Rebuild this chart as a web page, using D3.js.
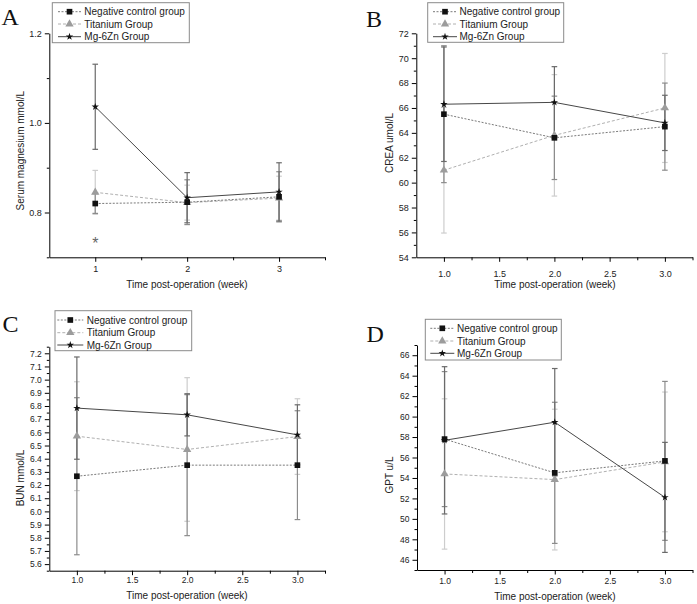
<!DOCTYPE html>
<html><head><meta charset="utf-8">
<script src="https://cdn.jsdelivr.net/npm/d3@7"></script>
<style>body{margin:0;background:#fff}svg{display:block}</style>
</head><body>
<svg id="c" width="697" height="604"></svg>
<script>
// ---------- data ----------
const weeks = [1, 2, 3];
const seriesNames = ["Negative control group", "Titanium Group", "Mg-6Zn Group"];

// A: Serum magnesium (mmol/L)
const mgNeg = [0.820, 0.823, 0.835], mgNegErr = [0.022, 0.050, 0.056];
const mgTi  = [0.845, 0.822, 0.832], mgTiErr  = [0.049, 0.039, 0.049];
const mgMg  = [1.036, 0.833, 0.846], mgMgErr  = [0.095, 0.056, 0.065];
const mgStar = [1, 0.745];

// B: CREA (umol/L)
const creaNeg = [65.5, 63.6, 64.5],  creaNegErr = [5.5, 3.35, 3.5];
const creaTi  = [61.0, 63.8, 66.0],  creaTiErr  = [5.05, 4.88, 4.38];
const creaMg  = [66.3, 66.45, 64.8], creaMgErr  = [4.6, 2.87, 2.22];

// C: BUN (mmol/L)
const bunNeg = [6.267, 6.351, 6.351], bunNegErr = [0.596, 0.535, 0.413];
const bunTi  = [6.571, 6.470, 6.568], bunTiErr  = [0.413, 0.545, 0.287];
const bunMg  = [6.784, 6.733, 6.581], bunMgErr  = [0.388, 0.160, 0.228];

// D: GPT (u/L)
const gptNeg = [57.8, 54.5, 55.67],  gptNegErr = [6.6, 6.9, 7.77];
const gptTi  = [54.39, 53.84, 55.57], gptTiErr = [7.35, 6.88, 6.83];
const gptMg  = [57.68, 59.45, 52.1], gptMgErr  = [7.2, 5.25, 5.38];

// tick values
const aXTicks = [1, 2, 3], aXMinor = [1.5, 2.5, 3.5];
const aYTicks = [0.8, 1.0, 1.2], aYMinor = [0.7, 0.9, 1.1];
const xTicksHalf = [1.0, 1.5, 2.0, 2.5, 3.0], xMinorQ = [1.25, 1.75, 2.25, 2.75, 3.25];
const bYTicks = d3.range(54, 72.1, 2), bYMinor = d3.range(55, 72, 2);
const cYTicks = d3.range(56, 72.1, 1).map(v => v / 10), cYMinor = d3.range(555, 726, 10).map(v => v / 100);
const dYTicks = d3.range(46, 66.1, 2), dYMinor = d3.range(45, 67.1, 2);

// ---------- styles ----------
const styles = [
  {line: "#7a7a7a", dash: "2,1.5", err: "#8c8c8c", mark: "#111", sym: d3.symbolSquare, size: 32},
  {line: "#b0b0b0", dash: "3,2",   err: "#cdcdcd", mark: "#9c9c9c", sym: d3.symbolTriangle, size: 30},
  {line: "#474747", dash: null,    err: "#6a6a6a", mark: "#111", sym: d3.symbolStar, size: 17}
];
const drawOrder = [1, 0, 2];

const panels = [
  {letter: "A", lx: 1.5, ly: 25, title: "Serum magnesium mmol/L", tx: 20.7, ty: 150.7,
   x0: 49.3, x1: 325, yT: 33.3, yB: 257.3, xDom: [0.5, 3.5], yDom: [0.7, 1.2],
   xt: aXTicks, xm: aXMinor, yt: aYTicks, ym: aYMinor, xf: d3.format("d"), yf: d3.format(".1f"),
   xlab: 187, xlabY: 287.5, xPad: 4, tickFont: 9,
   series: [[mgNeg, mgNegErr], [mgTi, mgTiErr], [mgMg, mgMgErr]],
   leg: {x: 52.3, y: 2.7, w: 137, h: 40, rows: [11.7, 24, 36.7], l0: 58, l1: 81, t: 84.3}},
  {letter: "B", lx: 366, ly: 26.7, title: "CREA umol/L", tx: 389.7, ty: 143,
   x0: 416.3, x1: 692.5, yT: 33.3, yB: 257.3, xDom: [0.75, 3.25], yDom: [54, 72],
   xt: xTicksHalf, xm: xMinorQ, yt: bYTicks, ym: bYMinor, xf: d3.format(".1f"), yf: d3.format("d"),
   xlab: 555, xlabY: 287.5, xPad: 9, tickFont: 9,
   series: [[creaNeg, creaNegErr], [creaTi, creaTiErr], [creaMg, creaMgErr]],
   leg: {x: 427.7, y: 2.7, w: 136, h: 39.6, rows: [11.7, 24, 36.7], l0: 433, l1: 457, t: 459.5}},
  {letter: "C", lx: 2.5, ly: 331.7, title: "BUN mmol/L", tx: 20, ty: 478,
   x0: 49.3, x1: 325, yT: 346.7, yB: 570.7, xDom: [0.75, 3.25], yDom: [5.55, 7.25],
   xt: xTicksHalf, xm: xMinorQ, yt: cYTicks, ym: cYMinor, xf: d3.format(".1f"), yf: d3.format(".1f"),
   xlab: 187, xlabY: 598.5, xPad: 1.5, tickFont: 8.5,
   series: [[bunNeg, bunNegErr], [bunTi, bunTiErr], [bunMg, bunMgErr]],
   leg: {x: 55, y: 310.7, w: 136.7, h: 40, rows: [320, 332.7, 345], l0: 57.3, l1: 83.3, t: 86.7}},
  {letter: "D", lx: 366.5, ly: 341.7, title: "GPT u/L", tx: 389.7, ty: 475,
   x0: 417, x1: 692.5, yT: 345, yB: 570, xDom: [0.75, 3.25], yDom: [45, 67],
   xt: xTicksHalf, xm: xMinorQ, yt: dYTicks, ym: dYMinor, xf: d3.format(".1f"), yf: d3.format("d"),
   xlab: 555, xlabY: 599.5, xPad: 3.5, tickFont: 8.5,
   series: [[gptNeg, gptNegErr], [gptTi, gptTiErr], [gptMg, gptMgErr]],
   leg: {x: 425.3, y: 319.3, w: 136, h: 40.7, rows: [328.3, 341, 353.3], l0: 430.3, l1: 454.3, t: 457}}
];

const svg = d3.select("#c");
const SANS = "'Liberation Sans', Arial, sans-serif";

function styleAxis(g, fs) {
  g.select(".domain").attr("stroke", "#000").attr("stroke-width", 1);
  g.selectAll(".tick line").attr("stroke", "#000").attr("stroke-width", 1);
  g.selectAll("text").attr("font-family", SANS).attr("font-size", fs).attr("fill", "#222");
}

panels.forEach(p => {
  const x = d3.scaleLinear().domain(p.xDom).range([p.x0, p.x1]);
  const y = d3.scaleLinear().domain(p.yDom).range([p.yB, p.yT]);
  const g = svg.append("g");

  // minor ticks
  g.append("g").attr("transform", `translate(0,${p.yB})`)
    .call(d3.axisBottom(x).tickValues(p.xm).tickSize(3).tickSizeOuter(0).tickFormat(""))
    .call(a => { styleAxis(a, p.tickFont); a.select(".domain").remove(); });
  g.append("g").attr("transform", `translate(${p.x0},0)`)
    .call(d3.axisLeft(y).tickValues(p.ym).tickSize(2.5).tickSizeOuter(0).tickFormat(""))
    .call(a => { styleAxis(a, p.tickFont); a.select(".domain").remove(); });
  // major axes
  g.append("g").attr("transform", `translate(0,${p.yB})`)
    .call(d3.axisBottom(x).tickValues(p.xt).tickSize(4.5).tickSizeOuter(0).tickPadding(p.xPad).tickFormat(p.xf))
    .call(a => styleAxis(a, p.tickFont));
  g.append("g").attr("transform", `translate(${p.x0},0)`)
    .call(d3.axisLeft(y).tickValues(p.yt).tickSize(4.5).tickSizeOuter(0).tickPadding(3).tickFormat(p.yf))
    .call(a => styleAxis(a, p.tickFont));

  // titles
  g.append("text").attr("x", p.xlab).attr("y", p.xlabY).attr("text-anchor", "middle")
    .attr("font-family", SANS).attr("font-size", 10).attr("fill", "#222").text("Time post-operation (week)");
  g.append("text").attr("transform", `translate(${p.tx},${p.ty}) rotate(-90)`).attr("text-anchor", "middle")
    .attr("dy", "0.35em").attr("font-family", SANS).attr("font-size", 10).attr("fill", "#222").text(p.title);
  g.append("text").attr("x", p.lx).attr("y", p.ly).attr("font-family", "'Liberation Serif', 'Times New Roman', serif")
    .attr("font-size", 24).attr("fill", "#111").text(p.letter);

  // error bars
  drawOrder.forEach(si => {
    const [vals, errs] = p.series[si], st = styles[si];
    const eg = g.append("g").attr("stroke", st.err).attr("stroke-width", 1.2).attr("fill", "none");
    weeks.forEach((w, i) => {
      const cx = x(w), top = y(vals[i] + errs[i]), bot = y(vals[i] - errs[i]);
      eg.append("line").attr("x1", cx).attr("x2", cx).attr("y1", top).attr("y2", bot);
      eg.append("line").attr("x1", cx - 2.8).attr("x2", cx + 2.8).attr("y1", top).attr("y2", top);
      eg.append("line").attr("x1", cx - 2.8).attr("x2", cx + 2.8).attr("y1", bot).attr("y2", bot);
    });
  });
  // lines
  drawOrder.forEach(si => {
    const [vals] = p.series[si], st = styles[si];
    g.append("path").datum(weeks.map((w, i) => [w, vals[i]]))
      .attr("d", d3.line().x(d => x(d[0])).y(d => y(d[1])))
      .attr("fill", "none").attr("stroke", st.line).attr("stroke-width", 1)
      .attr("stroke-dasharray", st.dash);
  });
  // markers
  drawOrder.forEach(si => {
    const [vals] = p.series[si], st = styles[si];
    weeks.forEach((w, i) => {
      g.append("path").attr("d", d3.symbol().type(st.sym).size(st.size)())
        .attr("transform", `translate(${x(w)},${y(vals[i])})`).attr("fill", st.mark);
    });
  });

  if (p.letter === "A") {
    g.append("text").attr("x", x(mgStar[0])).attr("y", y(mgStar[1])).attr("dy", "0.72em")
      .attr("text-anchor", "middle").attr("font-family", SANS).attr("font-size", 16).attr("fill", "#666").text("*");
  }

  // legend
  const L = p.leg;
  const lg = g.append("g");
  lg.append("rect").attr("x", L.x).attr("y", L.y).attr("width", L.w).attr("height", L.h)
    .attr("fill", "#fff").attr("stroke", "#8a8a8a").attr("stroke-width", 1);
  [0, 1, 2].forEach(si => {
    const st = styles[si], ry = L.rows[si];
    lg.append("line").attr("x1", L.l0).attr("x2", L.l1).attr("y1", ry).attr("y2", ry)
      .attr("stroke", st.line).attr("stroke-width", 1).attr("stroke-dasharray", st.dash);
    lg.append("path").attr("d", d3.symbol().type(st.sym).size(st.size)())
      .attr("transform", `translate(${(L.l0 + L.l1) / 2},${ry})`).attr("fill", st.mark);
    lg.append("text").attr("x", L.t).attr("y", ry).attr("dy", "0.35em")
      .attr("font-family", SANS).attr("font-size", 10).attr("fill", "#222").text(seriesNames[si]);
  });
});
</script>
</body></html>
